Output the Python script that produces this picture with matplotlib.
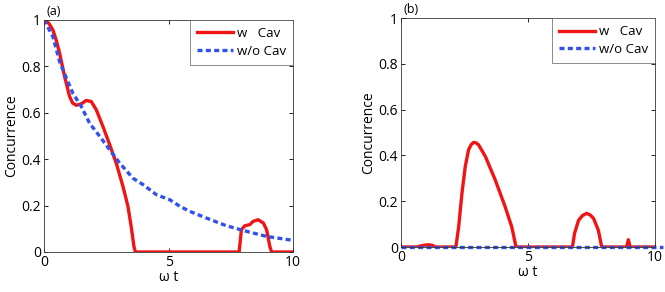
import numpy as np
import matplotlib
matplotlib.use('Agg')
from matplotlib import pyplot as plt
from matplotlib.ticker import FuncFormatter

# panel (a), with cavity
t_a_cav = [0, 0.2, 0.36, 0.5, 0.63, 0.83, 1.03, 1.15, 1.3, 1.5, 1.7, 1.9, 2.1, 2.37, 2.64,
           2.9, 3.17, 3.37, 3.5, 3.61, 3.67, 7.83, 7.92, 8.06, 8.26, 8.39, 8.59, 8.8,
           8.93, 9.06, 9.13, 10]
c_a_cav = [1, 0.985, 0.957, 0.91, 0.857, 0.756, 0.67, 0.642, 0.632, 0.638, 0.653, 0.648,
           0.613, 0.54, 0.462, 0.383, 0.283, 0.197, 0.11, 0.024, 0, 0, 0.096, 0.113,
           0.118, 0.132, 0.139, 0.125, 0.096, 0.024, 0, 0]
# panel (a), without cavity
t_a_free = [0, 0.36, 0.63, 0.9, 1.16, 1.5, 1.83, 2.24, 2.64, 3.04, 3.57, 3.98, 4.51,
            5.05, 5.45, 5.85, 6.52, 7.32, 8.13, 8.93, 10]
c_a_free = [1, 0.928, 0.82, 0.75, 0.684, 0.627, 0.555, 0.498, 0.44, 0.383, 0.318, 0.29,
            0.247, 0.225, 0.197, 0.175, 0.146, 0.113, 0.089, 0.067, 0.05]

# panel (b), with cavity
t_b_cav = [0, 0.63, 0.85, 1.09, 1.25, 1.35, 2.16, 2.27, 2.4, 2.53, 2.66, 2.76, 2.86, 2.95,
           3.05, 3.32, 3.71, 4.1, 4.36, 4.53, 6.75, 6.83, 6.99, 7.15, 7.31, 7.45, 7.58,
           7.77, 7.9, 8.88, 8.95, 9.02, 10]
c_b_cav = [0, 0, 0.007, 0.01, 0.007, 0, 0, 0.088, 0.235, 0.352, 0.425, 0.447, 0.457,
           0.455, 0.447, 0.396, 0.293, 0.176, 0.088, 0, 0, 0.059, 0.117, 0.138, 0.147,
           0.14, 0.125, 0.073, 0, 0, 0.032, 0, 0]
# panel (b), without cavity
t_b_free = [0, 10.3]
c_b_free = [0, 0]

RED = '#f01414'
BLUE = '#2f52ee'

plt.rcParams['font.family'] = ['Open Sans', 'DejaVu Sans']
plt.rcParams['font.size'] = 10

fig = plt.figure(figsize=(6.65, 2.92), dpi=100)
ax_a = fig.add_axes([0.066, 0.137, 0.375, 0.795])
ax_b = fig.add_axes([0.603, 0.154, 0.382, 0.784])

fmt = FuncFormatter(lambda v, p: f'{v:g}')

panels = [
    (ax_a, t_a_cav, c_a_cav, t_a_free, c_a_free, '(a)'),
    (ax_b, t_b_cav, c_b_cav, t_b_free, c_b_free, '(b)'),
]
for ax, tc, cc, tf, cf, tag in panels:
    ax.plot(tc, cc, color=RED, lw=2.4, label='w   Cav', solid_joinstyle='round')
    ax.plot(tf, cf, color=BLUE, lw=2.4, ls=(0, (1.5, 1.0)), label='w/o Cav',
            clip_on=(ax is ax_a))
    ax.set_xlim(0, 10)
    ax.set_ylim(0, 1)
    ax.set_xticks([0, 5, 10])
    ax.set_yticks([0, 0.2, 0.4, 0.6, 0.8, 1])
    ax.yaxis.set_major_formatter(fmt)
    ax.tick_params(direction='in', top=True, right=True, length=3, width=0.6, pad=2)
    for sp in ax.spines.values():
        sp.set_linewidth(0.6)
        sp.set_color('#333333')
    ax.set_xlabel('ω t', labelpad=0)
    ax.set_ylabel('Concurrence', labelpad=2)
    ax.text(0.01, 1.01, tag, transform=ax.transAxes, ha='left', va='bottom', fontsize=9)
    leg = ax.legend(loc='upper right', fontsize=9.5, frameon=True, fancybox=False,
                    borderpad=0.55, handlelength=2.7, handletextpad=0.3, labelspacing=0.35,
                    borderaxespad=0.0)
    leg.get_frame().set_edgecolor('#555555')
    leg.get_frame().set_linewidth(0.6)

fig.savefig('out.png', dpi=100)
